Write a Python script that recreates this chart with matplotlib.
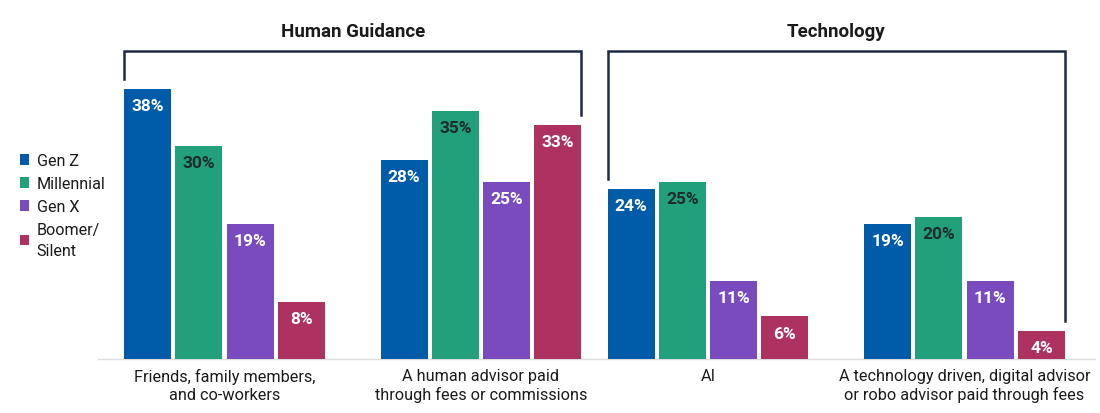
import matplotlib
matplotlib.use('Agg')
import matplotlib.pyplot as plt
import numpy as np

plt.rcParams['font.family'] = ['Roboto', 'DejaVu Sans']

# data
categories = ['Friends, family members,\nand co-workers',
              'A human advisor paid\nthrough fees or commissions',
              'AI',
              'A technology driven, digital advisor\nor robo advisor paid through fees']
generations = ['Gen Z', 'Millennial', 'Gen X', 'Boomer/\nSilent']
gen_z = [38, 28, 24, 19]
millennial = [30, 35, 25, 20]
gen_x = [19, 25, 11, 11]
boomer = [8, 33, 6, 4]
group_names = ['Human Guidance', 'Technology']
group_members = [(0, 1), (2, 3)]

colors = ['#005ca8', '#21a07b', '#7a4bbf', '#ae3260']
label_colors = ['white', '#1c2b2b', 'white', 'white']
bracket_color = '#1f2a44'

# layout (pixel-based x axis)
centers = np.array([224.5, 481.0, 708.0, 964.5])
step = 51.3
bar_w = 47
px_per_unit = 7.1

fig = plt.figure(figsize=(11, 4.14), dpi=100)
ax = fig.add_axes([0, 54 / 414, 1, 360 / 414])
ax.set_xlim(0, 1100)
ax.set_ylim(0, 360 / px_per_unit)
ax.axis('off')

series = [gen_z, millennial, gen_x, boomer]
bars = []
for i, vals in enumerate(series):
    xs = centers + (i - 1.5) * step
    b = ax.bar(xs, vals, width=bar_w, color=colors[i], label=generations[i], zorder=2)
    bars.append(b)
    for x, v in zip(xs, vals):
        ax.text(x, v - 2.35, f'{v}%', ha='center', va='center', color=label_colors[i],
                fontsize=12.5, fontweight='bold', zorder=3)

# baseline
ax.plot([98, 1095], [0, 0], color='#dddddd', lw=1, zorder=1, clip_on=False)

# category labels
for cx, lab in zip(centers, categories):
    ax.text(cx, -1.3, lab, ha='center', va='top', fontsize=11.7, color='#1a1a1a',
            linespacing=1.22, clip_on=False)

# brackets
top_y = (360 - 52) / px_per_unit
for name, (a, b) in zip(group_names, group_members):
    left_x = centers[a] - 1.5 * step - bar_w / 2
    right_x = centers[b] + 1.5 * step + bar_w / 2
    left_v = series[0][a] + 1.4
    right_v = series[3][b] + 1.4
    ax.plot([left_x, left_x, right_x, right_x], [left_v, top_y, top_y, right_v],
            color=bracket_color, lw=1.8, solid_joinstyle='miter', zorder=1)
    ax.text((left_x + right_x) / 2, (360 - 32) / px_per_unit, name, ha='center', va='center',
            fontsize=13.5, fontweight='bold', color='#1a1a1a')

leg = ax.legend(handles=bars, labels=generations, loc='upper left',
                bbox_to_anchor=(0.018, 0.572), frameon=False, fontsize=11.6,
                handlelength=0.6, handleheight=0.6, handletextpad=0.45,
                labelspacing=0.5, borderpad=0, borderaxespad=0)
for t in leg.get_texts():
    t.set_color('#1a1a1a')
    t.set_linespacing(1.45)

fig.savefig('out.png', dpi=100)
